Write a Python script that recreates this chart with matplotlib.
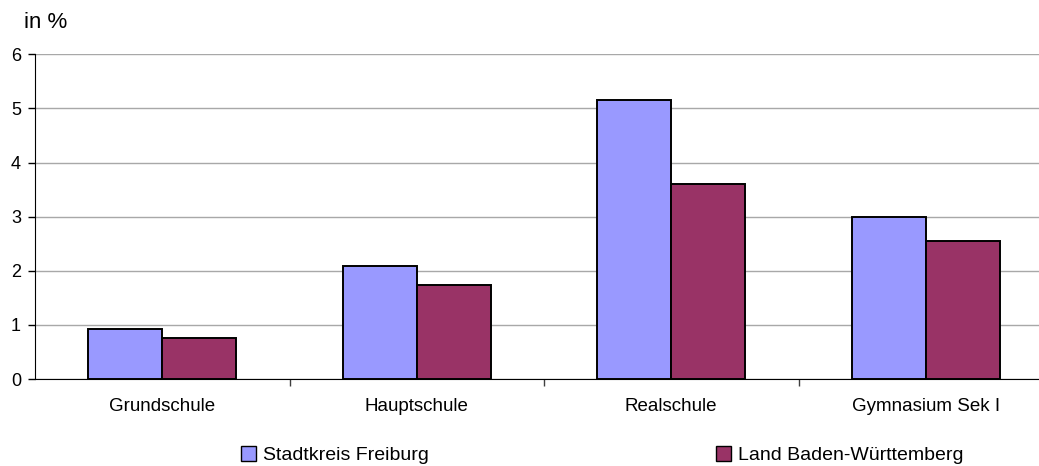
import matplotlib
matplotlib.use("Agg")
import matplotlib.pyplot as plt
import numpy as np
from matplotlib.patches import Patch

categories = ["Grundschule", "Hauptschule", "Realschule", "Gymnasium Sek I"]
freiburg = [0.93, 2.08, 5.16, 2.99]
bw = [0.76, 1.74, 3.61, 2.55]
series_names = ["Stadtkreis Freiburg", "Land Baden-Württemberg"]
yticks = [0, 1, 2, 3, 4, 5, 6]

plt.rcParams['font.family'] = ['Liberation Sans', 'DejaVu Sans']

W, H = 1039, 466
fig = plt.figure(figsize=(W / 100, H / 100), dpi=100)
left, right, top, bottom = 35, 1053, 54.3, 379
ax = fig.add_axes([left / W, (H - bottom) / H, (right - left) / W, (bottom - top) / H])

x = np.arange(len(categories))
bw_w = 0.29
c1, c2 = "#9999ff", "#993366"
ax.bar(x - bw_w / 2, freiburg, width=bw_w, color=c1, edgecolor="black", linewidth=1.4, zorder=3)
ax.bar(x + bw_w / 2, bw, width=bw_w, color=c2, edgecolor="black", linewidth=1.4, zorder=3)

ax.set_xlim(-0.5, len(categories) - 0.5)
ax.set_ylim(0, 6)
ax.set_yticks(yticks)
ax.yaxis.grid(True, color="#a8a8a8", linewidth=1.0, zorder=0)
ax.set_xticks(x)
ax.set_xticklabels(categories, fontsize=13.5)
ax.tick_params(axis="x", length=0, pad=14)
ax.set_xticks(np.arange(0.5, len(categories) - 0.5, 1), minor=True)
ax.tick_params(axis="x", which="minor", length=5, width=1, color="#404040")
ax.tick_params(axis="y", length=5, width=1, labelsize=13, pad=5)

for s in ["top", "right"]:
    ax.spines[s].set_visible(False)
ax.spines["left"].set_color("black")
ax.spines["bottom"].set_color("black")

fig.text(24 / W, 1 - 22 / H, "in %", fontsize=16, va="center", ha="left")

for handle_color, name, xpos in [(c1, series_names[0], 241), (c2, series_names[1], 716)]:
    leg = fig.legend([Patch(facecolor=handle_color, edgecolor="black")], [name],
                     loc="center left", bbox_to_anchor=(xpos / W, 1 - 455 / H),
                     frameon=False, fontsize=14, handlelength=0.78, handleheight=0.78,
                     handletextpad=0.36, borderpad=0, borderaxespad=0)

fig.savefig("out.png", dpi=100)
